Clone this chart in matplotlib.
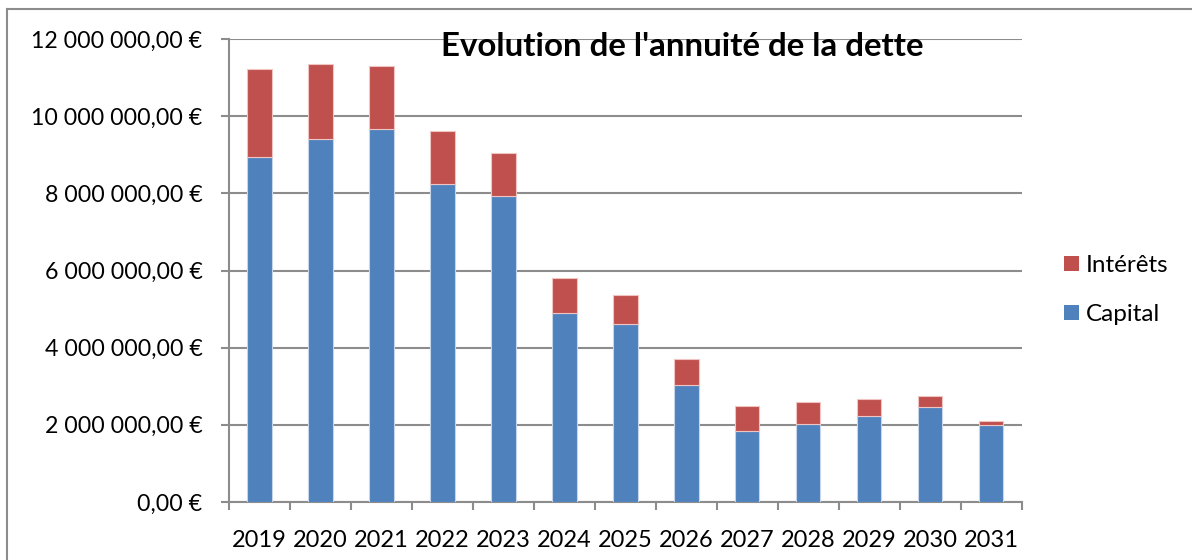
import matplotlib
matplotlib.use("Agg")
import matplotlib.pyplot as plt
from matplotlib.lines import Line2D
from matplotlib.patches import Patch
from matplotlib.ticker import FuncFormatter, FixedLocator
import numpy as np

years = ["2019", "2020", "2021", "2022", "2023", "2024", "2025",
         "2026", "2027", "2028", "2029", "2030", "2031"]
capital = [8.95e6, 9.40e6, 9.66e6, 8.24e6, 7.92e6, 4.90e6, 4.61e6,
           3.03e6, 1.83e6, 2.02e6, 2.23e6, 2.46e6, 2.00e6]
interets = [2.26e6, 1.96e6, 1.65e6, 1.37e6, 1.12e6, 0.90e6, 0.75e6,
            0.67e6, 0.66e6, 0.57e6, 0.44e6, 0.29e6, 0.09e6]
yticks = [0, 2e6, 4e6, 6e6, 8e6, 10e6, 12e6]
title = "Evolution de l'annuité de la dette"

BLUE = "#4F81BD"
RED = "#C0504D"
GRID = "#8C8C8C"
FONT = ["Lato", "DejaVu Sans"]

plt.rcParams['font.family'] = FONT

W, H = 1192, 560
fig = plt.figure(figsize=(W / 100, H / 100), dpi=100)
ax = fig.add_axes([229 / W, 1 - 502 / H, (1021.7 - 229) / W, (502 - 39) / H])

x = np.arange(len(years))
ax.bar(x, capital, width=0.4, color=BLUE, edgecolor="#C6D5EA", linewidth=0.8, zorder=3)
ax.bar(x, interets, width=0.4, bottom=capital, color=RED, edgecolor="#F0C4C3",
       linewidth=0.8, zorder=3)

ax.set_xlim(-0.5, len(years) - 0.5)
ax.set_ylim(0, 12e6)
ax.yaxis.set_major_locator(FixedLocator(yticks))


def fmt(v, pos):
    s = f"{v:,.2f}".replace(",", " ").replace(".", ",")
    return s + " €"


ax.yaxis.set_major_formatter(FuncFormatter(fmt))
ax.grid(axis="y", color=GRID, linewidth=1.5, zorder=0)
ax.set_axisbelow(True)

for s in ["top", "right"]:
    ax.spines[s].set_visible(False)
for s in ["left", "bottom"]:
    ax.spines[s].set_color(GRID)
    ax.spines[s].set_linewidth(1.5)

ax.set_xticks(x)
ax.set_xticklabels(years)
ax.tick_params(axis="x", length=0, pad=20, labelsize=17)
ax.set_xticks(np.arange(-0.5, len(years), 1.0), minor=True)
ax.tick_params(axis="x", which="minor", length=6, width=1.5, color=GRID)
ax.tick_params(axis="y", length=6, width=1.5, color=GRID, labelsize=16.7, pad=13)

fig.text(682 / W, 1 - 46 / H, title, ha="center", va="center",
         fontsize=23.8, fontweight="bold")

handles = [Patch(facecolor=RED, edgecolor="none", label="Intérêts"),
           Patch(facecolor=BLUE, edgecolor="none", label="Capital")]
fig.legend(handles=handles, loc="center left", bbox_to_anchor=(1054 / W, 1 - 290 / H),
           frameon=False, fontsize=17.5, handlelength=0.62, handleheight=0.62,
           handletextpad=0.3, labelspacing=1.15, borderaxespad=0)

# outer chart border (partly cropped)
fig.add_artist(Line2D([7.5 / W, 7.5 / W], [0, 1 - 9 / H], transform=fig.transFigure,
                      color=GRID, linewidth=1.5))
fig.add_artist(Line2D([7.5 / W, 1], [1 - 9 / H, 1 - 9 / H], transform=fig.transFigure,
                      color=GRID, linewidth=1.5))

fig.savefig("out.png", dpi=100, facecolor="white")
